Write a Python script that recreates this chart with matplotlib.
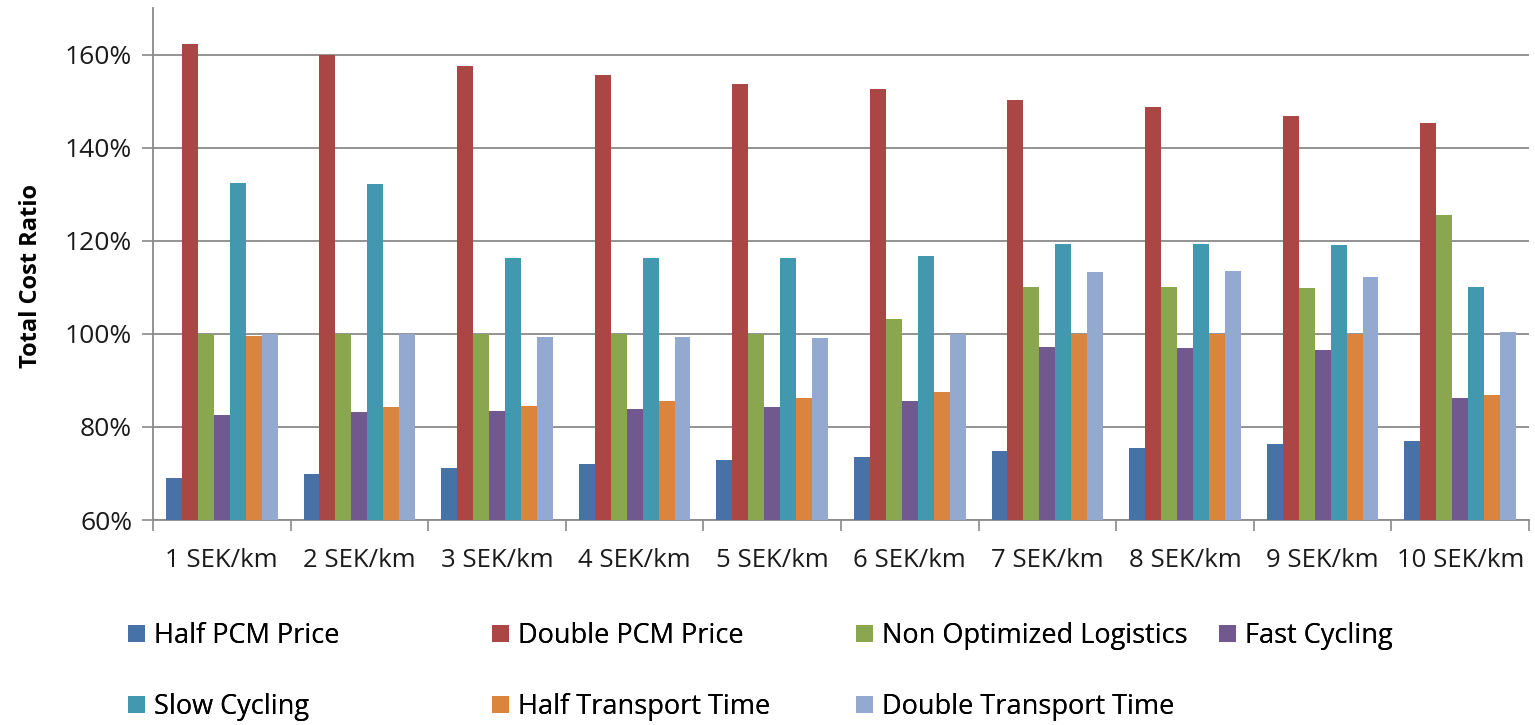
import matplotlib
matplotlib.use("Agg")
import matplotlib.pyplot as plt
import numpy as np
from matplotlib.patches import Patch
from matplotlib.ticker import FuncFormatter, FixedLocator

plt.rcParams['font.family'] = ['Open Sans', 'DejaVu Sans']

categories = ["1 SEK/km", "2 SEK/km", "3 SEK/km", "4 SEK/km", "5 SEK/km",
              "6 SEK/km", "7 SEK/km", "8 SEK/km", "9 SEK/km", "10 SEK/km"]

series_names = ["Half PCM Price", "Double PCM Price", "Non Optimized Logistics",
                "Fast Cycling", "Slow Cycling", "Half Transport Time",
                "Double Transport Time"]

half_pcm_price = [69.0, 69.9, 71.2, 72.1, 72.8, 73.5, 74.8, 75.4, 76.3, 76.9]
double_pcm_price = [162.3, 160.0, 157.5, 155.6, 153.7, 152.5, 150.3, 148.7, 146.9, 145.4]
non_optimized_logistics = [100.0, 100.0, 100.0, 100.0, 100.0, 103.2, 110.1, 110.1, 109.8, 125.6]
fast_cycling = [82.6, 83.3, 83.5, 83.9, 84.3, 85.5, 97.2, 96.9, 96.5, 86.2]
slow_cycling = [132.5, 132.2, 116.2, 116.2, 116.2, 116.7, 119.3, 119.3, 119.0, 110.1]
half_transport_time = [99.5, 84.3, 84.5, 85.5, 86.2, 87.4, 100.0, 100.0, 100.0, 86.8]
double_transport_time = [100.0, 100.0, 99.3, 99.3, 99.1, 99.9, 113.3, 113.6, 112.1, 100.3]

series_values = [half_pcm_price, double_pcm_price, non_optimized_logistics,
                 fast_cycling, slow_cycling, half_transport_time,
                 double_transport_time]

colors = ["#4672A8", "#AA4644", "#8AA64F", "#71588F", "#4198AF", "#DB843D", "#93A9CF"]

W, H = 1535, 725
fig = plt.figure(figsize=(W / 100, H / 100), dpi=100)
ax = fig.add_axes([153 / W, 1 - 520 / H, (1529 - 153) / W, (520 - 8) / H])

x = np.arange(len(categories))
bar_w = 0.116
n = len(series_names)
for j, (name, vals, col) in enumerate(zip(series_names, series_values, colors)):
    ax.bar(x + (j - (n - 1) / 2) * bar_w, vals, width=bar_w, color=col,
           label=name, zorder=3, linewidth=0)

ax.set_xlim(-0.5, len(categories) - 0.5)
ax.set_ylim(60, 170)
ax.yaxis.set_major_locator(FixedLocator([60, 80, 100, 120, 140, 160]))
ax.yaxis.set_major_formatter(FuncFormatter(lambda v, p: f"{v:.0f}%"))
ax.grid(axis='y', color='#8a8a8a', linewidth=1.3, zorder=0)

ax.set_xticks(x)
ax.set_xticklabels(categories, fontsize=18.5, color='#1a1a1a')
ax.set_xticks(np.arange(len(categories) + 1) - 0.5, minor=True)
ax.tick_params(axis='x', which='major', length=0, pad=20)
ax.tick_params(axis='x', which='minor', length=8, width=1.2, color='#8a8a8a')
ax.tick_params(axis='y', length=8, width=1.2, color='#8a8a8a', labelsize=19,
               labelcolor='#1a1a1a', pad=7)

for s in ['top', 'right']:
    ax.spines[s].set_visible(False)
for s in ['left', 'bottom']:
    ax.spines[s].set_color('#8a8a8a')
    ax.spines[s].set_linewidth(1.3)

ax.set_ylabel("Total Cost Ratio", fontsize=17, fontweight='bold')
ax.yaxis.set_label_coords((43 - 153) / (1529 - 153), (520 - 276) / (520 - 8))

# legend: four evenly spaced columns, two rows
handles = [Patch(facecolor=c, edgecolor='none') for c in colors]
col_x = [128, 492, 856, 1219]
row_y = [636, 707]
for i, (h, name) in enumerate(zip(handles, series_names)):
    cx = col_x[i % 4]
    cy = row_y[i // 4]
    leg = fig.legend([h], [name], loc='center left',
                     bbox_to_anchor=(cx / W, 1 - cy / H),
                     frameon=False, fontsize=19.5, handlelength=0.63,
                     handleheight=0.63, handletextpad=0.33,
                     borderaxespad=0, borderpad=0)
    fig.add_artist(leg)

fig.savefig("out.png", dpi=100)
